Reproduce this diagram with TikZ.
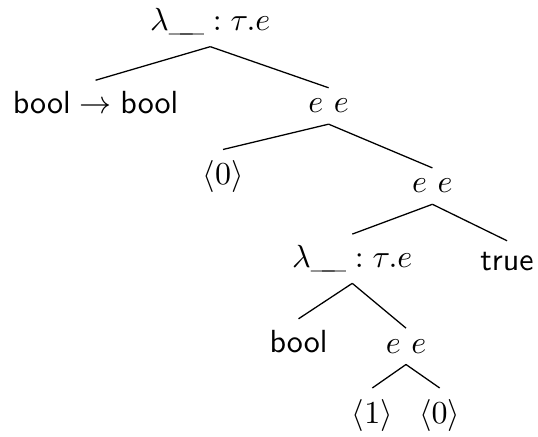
\documentclass[tikz,border=0pt]{standalone}
\usepackage{amsmath, amssymb}
\usepackage{tikz}
\usetikzlibrary{calc,positioning}

\begin{document}
\begin{tikzpicture}[every node/.style={anchor=base}]
      \useasboundingbox (0,0) rectangle (5.91,4.80);
      % Root and first level
      \node (lamtop) at (2.31,4.46) {$\lambda\text{\_\kern-.4em\_} : \tau.e$};
      \node (arrty) at (1.05,3.55) {$\mathsf{bool} \to \mathsf{bool}$};
      \node (appone) at (3.61,3.56) {$e\ e$};
      % Second level
      \node (varzeroa) at (2.45,2.77) {$\langle 0\rangle$};
      \node (apptwo) at (4.75,2.68) {$e\ e$};
      % Third level
      \node (laminner) at (3.87,1.86) {$\lambda\text{\_\kern-.4em\_} : \tau.e$};
      \node (truelit) at (5.57,1.83) {$\mathsf{true}$};
      % Fourth and fifth level
      \node (boolty) at (3.28,0.93) {$\mathsf{bool}$};
      \node (appthree) at (4.46,0.92) {$e\ e$};
      \node (varone) at (4.09,0.15) {$\langle 1\rangle$};
      \node (varzerob) at (4.83,0.15) {$\langle 0\rangle$};
      % Edges
      \draw (lamtop.south) -- (arrty.north);
      \draw (lamtop.south) -- (appone.north);
      \draw (appone.south) -- (varzeroa.north);
      \draw (appone.south) -- (apptwo.north);
      \draw (apptwo.south) -- (laminner.north);
      \draw (apptwo.south) -- (truelit.north);
      \draw (laminner.south) -- (boolty.north);
      \draw (laminner.south) -- (appthree.north);
      \draw (appthree.south) -- (varone.north);
      \draw (appthree.south) -- (varzerob.north);
    \end{tikzpicture}
\end{document}
